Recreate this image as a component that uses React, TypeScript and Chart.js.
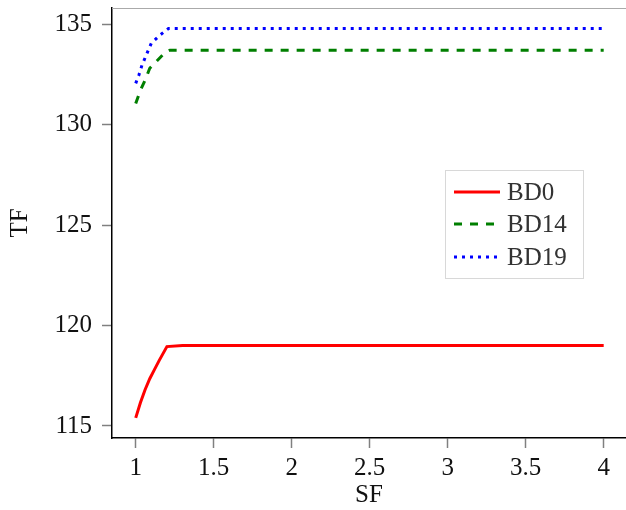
import React, { useEffect, useRef } from "react";
import { Chart, registerables } from "chart.js";

Chart.register(...registerables);

const sfBD0 = [1, 1.03, 1.06, 1.09, 1.12, 1.15, 1.2, 1.3, 4];
const tfBD0 = [115.4, 116.15, 116.8, 117.35, 117.8, 118.25, 118.95, 119.0, 119.0];
const sfBD14 = [1, 1.03, 1.06, 1.09, 1.14, 1.19, 1.22, 4];
const tfBD14 = [131.05, 131.7, 132.2, 132.8, 133.2, 133.6, 133.7, 133.7];
const sfBD19 = [1, 1.02, 1.04, 1.07, 1.1, 1.155, 1.21, 4];
const tfBD19 = [132.05, 132.45, 132.95, 133.5, 134.05, 134.45, 134.78, 134.78];
const seriesLabels = ["BD0", "BD14", "BD19"];
const xTicks = [1, 1.5, 2, 2.5, 3, 3.5, 4];
const yTicks = [115, 120, 125, 130, 135];

const FONT = "'Liberation Serif', serif";

const legendPlugin = {
  id: "customLegend",
  afterDraw(chart: any) {
    const ctx = chart.ctx;
    ctx.save();
    const ca = chart.chartArea;
    ctx.strokeStyle = "#aaaaaa";
    ctx.lineWidth = 1;
    ctx.beginPath();
    ctx.moveTo(ca.left, ca.top + 0.5);
    ctx.lineTo(ca.right, ca.top + 0.5);
    ctx.stroke();

    const bx = 445.5, by = 170.5, bw = 138, bh = 108;
    ctx.fillStyle = "#ffffff";
    ctx.fillRect(bx, by, bw, bh);
    ctx.strokeStyle = "#d8d8d8";
    ctx.strokeRect(bx, by, bw, bh);
    const rowsY = [192, 224, 257];
    chart.data.datasets.forEach((ds: any, i: number) => {
      const y = rowsY[i];
      ctx.strokeStyle = ds.borderColor;
      ctx.lineWidth = ds.borderWidth;
      ctx.setLineDash(ds.borderDash || []);
      ctx.beginPath();
      ctx.moveTo(454, y);
      ctx.lineTo(500, y);
      ctx.stroke();
      ctx.setLineDash([]);
      ctx.fillStyle = "#333333";
      ctx.font = `25px ${FONT}`;
      ctx.textBaseline = "middle";
      ctx.textAlign = "left";
      ctx.fillText(ds.label, 507, y + 1);
    });
    ctx.restore();
  },
};

export default function App() {
  const ref = useRef<HTMLCanvasElement>(null);
  useEffect(() => {
    if (!ref.current) return;
    const mk = (xs: number[], ys: number[]) => xs.map((x, i) => ({ x, y: ys[i] }));
    const chart = new Chart(ref.current, {
      type: "line",
      data: {
        datasets: [
          {
            label: seriesLabels[0],
            data: mk(sfBD0, tfBD0),
            borderColor: "#ff0000",
            borderWidth: 3,
            pointRadius: 0,
            tension: 0,
          },
          {
            label: seriesLabels[1],
            data: mk(sfBD14, tfBD14),
            borderColor: "#007f00",
            borderWidth: 3,
            borderDash: [8, 8],
            pointRadius: 0,
            tension: 0,
          },
          {
            label: seriesLabels[2],
            data: mk(sfBD19, tfBD19),
            borderColor: "#0000ff",
            borderWidth: 3,
            borderDash: [3, 5],
            pointRadius: 0,
            tension: 0,
          },
        ],
      },
      options: {
        animation: false,
        responsive: false,
        maintainAspectRatio: false,
        layout: { padding: { top: 8, right: 0, left: 0, bottom: 0 } },
        plugins: { legend: { display: false }, tooltip: { enabled: false } },
        scales: {
          x: {
            type: "linear",
            min: 0.848,
            max: 4.143,
            afterBuildTicks: (s: any) => {
              s.ticks = xTicks.map((v) => ({ value: v }));
            },
            afterFit: (s: any) => {
              s.height = 72;
              s.paddingLeft = 0;
              s.paddingRight = 0;
            },
            border: { display: true, color: "#000000", width: 1.5 },
            grid: {
              display: true,
              drawOnChartArea: false,
              drawTicks: true,
              tickLength: 10,
              tickColor: "#808080",
              tickWidth: 1.5,
            },
            ticks: {
              color: "#111111",
              font: { family: FONT, size: 25 },
              padding: 5,
              maxRotation: 0,
              callback: (v: any) => String(v),
            },
            title: {
              display: true,
              text: "SF",
              color: "#111111",
              font: { family: FONT, size: 25 },
              padding: { top: 0, bottom: 0 },
            },
          },
          y: {
            type: "linear",
            min: 114.4,
            max: 135.8,
            afterBuildTicks: (s: any) => {
              s.ticks = yTicks.map((v) => ({ value: v }));
            },
            afterFit: (s: any) => {
              s.width = 112;
              s.paddingTop = 0;
              s.paddingBottom = 0;
            },
            border: { display: true, color: "#000000", width: 1.5 },
            grid: {
              display: true,
              drawOnChartArea: false,
              drawTicks: true,
              tickLength: 10,
              tickColor: "#808080",
              tickWidth: 1.5,
            },
            ticks: {
              color: "#111111",
              font: { family: FONT, size: 25 },
              padding: 10,
              callback: (v: any) => String(v),
            },
            title: {
              display: true,
              text: "TF",
              color: "#111111",
              font: { family: FONT, size: 25 },
              padding: { top: 5, bottom: 0 },
            },
          },
        },
      },
      plugins: [legendPlugin],
    });
    return () => chart.destroy();
  }, []);
  return (
    <div style={{ position: "absolute", left: 0, top: 0, width: 626, height: 510, background: "#ffffff" }}>
      <canvas ref={ref} width={626} height={510} style={{ display: "block", width: 626, height: 510 }} />
    </div>
  );
}
